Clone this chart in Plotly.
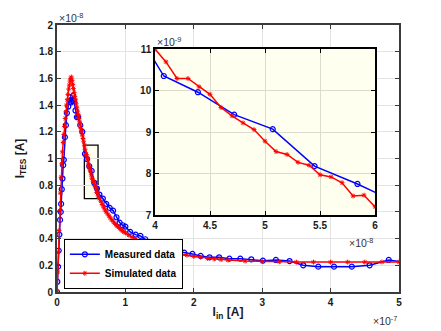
import plotly.graph_objects as go
import numpy as np

# ---- data (x in units of 1e-7 A, y in units of 1e-8 A) ----
meas_x = [0.0, 0.005, 0.015, 0.025, 0.035, 0.045, 0.055, 0.06, 0.07, 0.08, 0.09, 0.1,
          0.115, 0.13, 0.145, 0.165, 0.19, 0.205, 0.22, 0.235, 0.25, 0.27, 0.29, 0.31,
          0.34, 0.37, 0.408, 0.439, 0.472, 0.507, 0.545, 0.584, 0.62, 0.67, 0.72, 0.77,
          0.82, 0.87, 0.915, 0.96, 1.0, 1.07, 1.15, 1.22, 1.29, 1.38, 1.46, 1.55, 1.645,
          1.75, 1.86, 1.98, 2.1, 2.23, 2.37, 2.52, 2.68, 2.84, 3.01, 3.2, 3.4, 3.6, 3.82,
          4.05, 4.31, 4.57, 4.85, 5.1]
meas_y = [0.0, 0.077, 0.19, 0.31, 0.43, 0.54, 0.6, 0.66, 0.77, 0.85, 0.95, 0.99,
          1.16, 1.25, 1.34, 1.39, 1.46, 1.42, 1.43, 1.47, 1.43, 1.36, 1.31, 1.31,
          1.25, 1.2, 1.035, 0.996, 0.942, 0.907, 0.818, 0.775, 0.73, 0.70, 0.66, 0.63,
          0.61, 0.56, 0.52, 0.5, 0.49, 0.45, 0.43, 0.42, 0.395, 0.37, 0.35, 0.33, 0.315,
          0.307, 0.295, 0.285, 0.27, 0.26, 0.26, 0.25, 0.25, 0.245, 0.235, 0.24, 0.232, 0.2, 0.19,
          0.19, 0.19, 0.2, 0.24, 0.22]

sim_x = [0.00, 0.01, 0.02, 0.03, 0.04, 0.05, 0.06, 0.07, 0.08, 0.09, 0.10, 0.11, 0.12,
         0.13, 0.14, 0.15, 0.16, 0.17, 0.18, 0.19, 0.20, 0.21, 0.22, 0.23, 0.24, 0.25,
         0.26, 0.27, 0.28, 0.29, 0.30, 0.31, 0.32, 0.33, 0.34, 0.35, 0.36, 0.37, 0.38,
         0.39, 0.40, 0.41, 0.42, 0.43, 0.44, 0.45, 0.46, 0.47, 0.48, 0.49, 0.50, 0.51,
         0.52, 0.53, 0.54, 0.55, 0.56, 0.57, 0.58, 0.59, 0.60, 0.62, 0.64, 0.66, 0.68,
         0.70, 0.72, 0.74, 0.76, 0.78, 0.80, 0.82, 0.84, 0.86, 0.88, 0.90, 0.92, 0.94,
         0.96, 0.98, 1.00, 1.05, 1.10, 1.15, 1.20, 1.25, 1.30, 1.35, 1.40, 1.45, 1.50,
         1.60, 1.70, 1.80, 1.90, 2.00, 2.10, 2.20, 2.30, 2.40, 2.50, 2.75, 3.00, 3.25,
         3.50, 3.75, 4.00, 4.25, 4.50, 4.75, 5.00]
sim_y = [0.0, 0.15, 0.30, 0.46, 0.61, 0.74, 0.86, 0.96, 1.05, 1.12, 1.18, 1.24, 1.30,
         1.35, 1.40, 1.44, 1.48, 1.52, 1.55, 1.58, 1.60, 1.61, 1.585, 1.555, 1.525, 1.495,
         1.465, 1.44, 1.41, 1.38, 1.355, 1.33, 1.30, 1.275, 1.25, 1.225, 1.20, 1.175, 1.15,
         1.125, 1.100, 1.069, 1.029, 1.029, 1.009, 0.991, 0.959, 0.939, 0.922, 0.906, 0.878, 0.853,
         0.846, 0.827, 0.820, 0.797, 0.792, 0.778, 0.746, 0.748, 0.720, 0.70, 0.68, 0.655, 0.635,
         0.615, 0.60, 0.585, 0.57, 0.555, 0.54, 0.53, 0.515, 0.505, 0.495, 0.485, 0.475, 0.465,
         0.457, 0.45, 0.443, 0.425, 0.41, 0.395, 0.38, 0.367, 0.355, 0.345, 0.335, 0.326, 0.318,
         0.304, 0.293, 0.283, 0.275, 0.266, 0.26, 0.252, 0.247, 0.243, 0.239, 0.232, 0.228, 0.226,
         0.224, 0.224, 0.224, 0.224, 0.224, 0.225, 0.225]

main_xticks = [0, 1, 2, 3, 4, 5]
main_xticklabels = ["0", "1", "2", "3", "4", "5"]
main_yticks = [0, 0.2, 0.4, 0.6, 0.8, 1.0, 1.2, 1.4, 1.6, 1.8, 2.0]
main_yticklabels = ["0", "0.2", "0.4", "0.6", "0.8", "1", "1.2", "1.4", "1.6", "1.8", "2"]
inset_xticks = [4, 4.5, 5, 5.5, 6]          # units of 1e-8 A
inset_xticklabels = ["4", "4.5", "5", "5.5", "6"]
inset_yticks = [7, 8, 9, 10, 11]            # units of 1e-9 A
inset_yticklabels = ["7", "8", "9", "10", "11"]

# convert to amperes
mx = np.array(meas_x) * 1e-7
my = np.array(meas_y) * 1e-8
sx = np.array(sim_x) * 1e-7
sy = np.array(sim_y) * 1e-8

BLUE = "#0000ff"
RED = "#ff0000"
FONT = "Liberation Sans, Arial, sans-serif"

fig = go.Figure()

def add_traces(xa, ya, show):
    fig.add_trace(go.Scatter(
        x=mx, y=my, mode="lines+markers", name="Measured data",
        line=dict(color=BLUE, width=1.5),
        marker=dict(symbol="circle-open", size=5, color=BLUE, line=dict(width=1.2)),
        xaxis=xa, yaxis=ya, showlegend=show))
    fig.add_trace(go.Scatter(
        x=sx, y=sy, mode="lines+markers", name="Simulated data",
        line=dict(color=RED, width=1.5),
        marker=dict(symbol="asterisk-open", size=4, color=RED, line=dict(width=1, color=RED)),
        xaxis=xa, yaxis=ya, showlegend=show))

add_traces("x", "y", True)
add_traces("x2", "y2", False)

tickfont = dict(family=FONT, size=10, color="#1a1a1a", weight="bold")
MAINLINE = "#3a3a3a"
GRID = "#e3e3e3"
EXPFONT = dict(family=FONT, size=10.5, color="#333333")

fig.update_layout(
    width=433, height=323,
    margin=dict(l=49, r=42, t=17, b=39),
    paper_bgcolor="white", plot_bgcolor="white",
    font=dict(family=FONT, color="#1a1a1a"),
    xaxis=dict(domain=[0, 1], range=[0, 5e-7], tickvals=[v * 1e-7 for v in main_xticks],
               ticktext=main_xticklabels, ticks="inside", ticklen=4, tickcolor=MAINLINE,
               showline=True, linecolor=MAINLINE, linewidth=2, mirror="ticks",
               showgrid=True, gridcolor=GRID, gridwidth=1, zeroline=False,
               tickfont=tickfont,
               title=dict(text="I<sub>in</sub> [A]", font=dict(family=FONT, size=12, weight="bold"),
                          standoff=1)),
    yaxis=dict(domain=[0, 1], range=[0, 2e-8], tickvals=[v * 1e-8 for v in main_yticks],
               ticktext=main_yticklabels, ticks="inside", ticklen=4, tickcolor=MAINLINE,
               showline=True, linecolor=MAINLINE, linewidth=2, mirror="ticks",
               showgrid=True, gridcolor=GRID, gridwidth=1, zeroline=False,
               tickfont=tickfont,
               title=dict(text="I<sub>TES</sub> [A]", font=dict(family=FONT, size=12, weight="bold"),
                          standoff=12)),
    xaxis2=dict(domain=[0.2865, 0.930], anchor="y2", range=[4e-8, 6e-8],
                tickvals=[v * 1e-8 for v in inset_xticks], ticktext=inset_xticklabels,
                ticks="inside", ticklen=4, tickcolor="black",
                showline=True, linecolor="black", linewidth=1.5, mirror="ticks",
                showgrid=True, gridcolor="#dcdccc", gridwidth=1, zeroline=False,
                tickfont=tickfont),
    yaxis2=dict(domain=[0.288, 0.910], anchor="x2", range=[7e-9, 11e-9],
                tickvals=[v * 1e-9 for v in inset_yticks], ticktext=inset_yticklabels,
                ticks="inside", ticklen=4, tickcolor="black",
                showline=True, linecolor="black", linewidth=1.5, mirror="ticks",
                showgrid=True, gridcolor="#dcdccc", gridwidth=1, zeroline=False,
                tickfont=tickfont),
    legend=dict(x=0.02, y=0.012, xanchor="left", yanchor="bottom",
                bgcolor="white", bordercolor="black", borderwidth=1,
                font=dict(family=FONT, size=10, color="black", weight="bold"),
                tracegroupgap=0, itemwidth=30),
    shapes=[
        # inset background
        dict(type="rect", xref="x2", yref="y2", x0=4e-8, x1=6e-8, y0=7e-9, y1=11e-9,
             fillcolor="#fffff0", line=dict(width=0), layer="below"),
        # zoom rectangle on main plot
        dict(type="rect", xref="x", yref="y", x0=0.4e-7, x1=0.6e-7, y0=0.7e-8, y1=1.1e-8,
             fillcolor="#fffff0", line=dict(color="black", width=1.3), layer="below"),
    ],
    annotations=[
        dict(text="×10<sup>-8</sup>", xref="paper", yref="paper", x=0, y=1, xanchor="left",
             yanchor="bottom", showarrow=False, font=EXPFONT, yshift=-1),
        dict(text="×10<sup>-7</sup>", xref="paper", yref="paper", x=1, y=0, xanchor="right",
             yanchor="top", showarrow=False, font=EXPFONT, yshift=-20),
        dict(text="×10<sup>-9</sup>", xref="x2 domain", yref="y2 domain", x=0, y=1, xanchor="left",
             yanchor="bottom", showarrow=False, font=EXPFONT, yshift=-1),
        dict(text="×10<sup>-8</sup>", xref="x2 domain", yref="y2 domain", x=1, y=0, xanchor="right",
             yanchor="top", showarrow=False, font=EXPFONT, yshift=-19),
    ],
)

fig.write_html("out.html")
